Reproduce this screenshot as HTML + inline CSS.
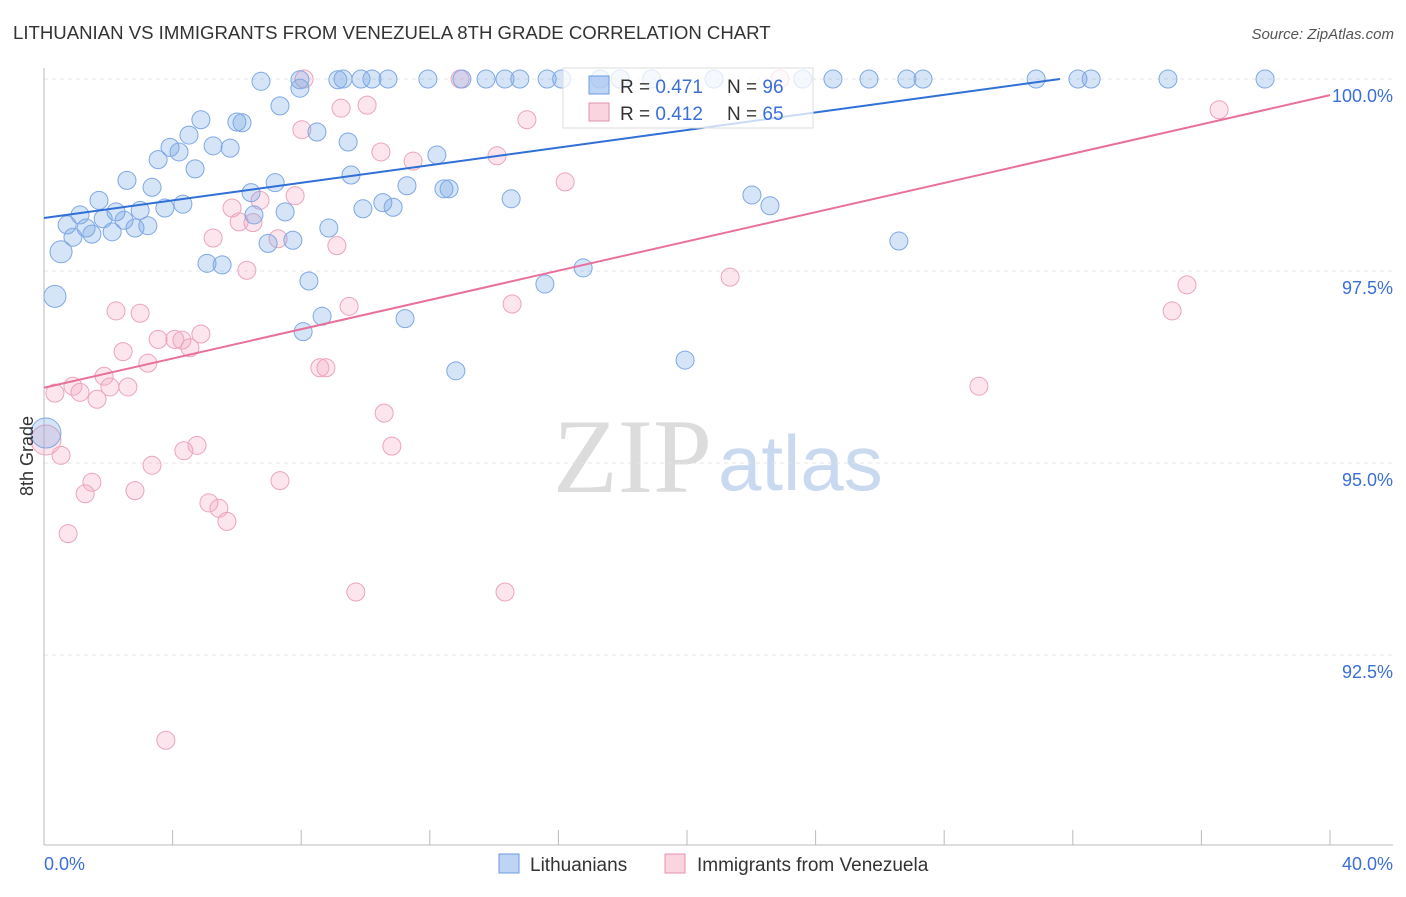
<!DOCTYPE html>
<html><head><meta charset="utf-8"><style>
body{margin:0;background:#fff;font-family:"Liberation Sans",sans-serif;}
</style></head><body>
<svg id="chart" width="1406" height="892" viewBox="0 0 1406 892" xmlns="http://www.w3.org/2000/svg" font-family="Liberation Sans, sans-serif">
<text x="13" y="39" font-size="18.6" fill="#333">LITHUANIAN VS IMMIGRANTS FROM VENEZUELA 8TH GRADE CORRELATION CHART</text>
<text x="1394" y="39" font-size="15" fill="#555" text-anchor="end" font-style="italic">Source: ZipAtlas.com</text>
<g>
<text x="553" y="492" font-size="106" fill="#dcdcdc" font-family="Liberation Serif, serif">ZIP</text>
<text x="718" y="490" font-size="78" fill="#c9d9f0">atlas</text>
</g>
<g id="grid"></g>
<g id="axes"></g>
<g id="marks"></g>
<g>
<rect x="563" y="68" width="250" height="60" fill="rgba(255,255,255,0.75)" stroke="#ddd"/>
<rect x="589" y="76" width="20" height="18" fill="rgba(110,160,230,0.45)" stroke="#6a9be0"/>
<text x="620" y="93" font-size="19" fill="#333">R = <tspan fill="#3a6fd8">0.471</tspan></text>
<text x="727" y="93" font-size="19" fill="#333">N = <tspan fill="#3a6fd8">96</tspan></text>
<rect x="589" y="103" width="20" height="18" fill="rgba(245,160,185,0.45)" stroke="#e890ae"/>
<text x="620" y="120" font-size="19" fill="#333">R = <tspan fill="#3a6fd8">0.412</tspan></text>
<text x="727" y="120" font-size="19" fill="#333">N = <tspan fill="#3a6fd8">65</tspan></text>
</g>
<g>
<rect x="499" y="854" width="20" height="19" fill="rgba(110,160,230,0.45)" stroke="#6a9be0"/>
<text x="530" y="871" font-size="19" fill="#333">Lithuanians</text>
<rect x="665" y="854" width="20" height="19" fill="rgba(245,160,185,0.45)" stroke="#e890ae"/>
<text x="697" y="871" font-size="19" fill="#333">Immigrants from Venezuela</text>
</g>
<text transform="translate(33,456) rotate(-90)" font-size="18" fill="#333" text-anchor="middle">8th Grade</text>
</svg>
<script>
const yTicks=[100,97.5,95,92.5];
const yTickLabels=["100.0%","97.5%","95.0%","92.5%"];
const xTickLabels=["0.0%","40.0%"];
const blueX=[6.75,7.96,9.14,9.30,9.86,10.2,10.7,11.94,13.0,13.75,14.34,14.8,15.65,16.1,17.3,17.92,18.9,20.84,23.6,24.54,25.66,26.84,27.34,30.86,32.16,32.57,34.96,37.98,7.34,7.96,4.88,6.0,6.16,4.51,8.49,9.46,3.92,4.2,5.26,5.79,3.55,12.22,4.7,2.58,3.36,9.55,7.19,6.44,1.71,4.32,3.76,11.29,12.44,12.6,14.53,22.02,22.58,9.92,10.54,10.86,1.12,2.24,2.99,6.53,7.5,0.72,1.84,2.49,3.23,8.86,1.31,2.12,2.83,0.9,1.49,6.97,7.74,26.59,0.53,5.07,5.54,16.77,8.24,15.58,0.34,8.65,11.23,8.06,19.94,12.81,0.06];
const blueY=[99.97,99.99,99.99,100,100,100,100,100,100,100,100,100,100,100,100,100,100,100,100,100,100,100,100,100,100,100,100,100,99.65,99.88,99.47,99.44,99.43,99.27,99.31,99.18,99.11,99.05,99.13,99.10,98.95,99.01,98.83,98.68,98.59,98.75,98.65,98.52,98.42,98.37,98.32,98.61,98.57,98.57,98.44,98.49,98.35,98.31,98.39,98.33,98.23,98.27,98.29,98.23,98.27,98.1,98.18,98.16,98.09,98.06,98.06,98.01,98.06,97.94,97.98,97.86,97.9,97.89,97.75,97.6,97.58,97.54,97.37,97.33,97.17,96.91,96.88,96.71,96.34,96.2,95.39];
const pinkX=[8.09,12.94,22.89,36.55,9.24,10.05,8.02,15.02,10.48,11.48,14.09,16.21,7.81,5.85,6.72,6.07,6.5,5.26,7.28,9.11,6.31,21.34,35.55,2.24,2.99,9.49,14.56,35.09,3.55,4.07,4.29,4.88,4.54,2.46,3.23,1.87,0.9,1.12,0.34,2.05,2.61,1.65,8.58,8.77,29.08,10.58,10.82,4.76,4.35,3.36,0.53,0.06,7.34,1.49,1.28,2.83,5.13,5.44,5.69,0.75,9.7,14.34,3.79];
const pinkY=[100,100,100,99.6,99.62,99.66,99.34,99.47,99.05,98.93,99.0,98.66,98.48,98.32,98.42,98.14,98.13,97.93,97.92,97.83,97.51,97.42,97.32,96.98,96.95,97.04,97.07,96.98,96.61,96.61,96.6,96.68,96.5,96.45,96.3,96.13,96.0,95.92,95.91,95.99,95.99,95.83,96.24,96.24,96.0,95.65,95.22,95.23,95.16,94.97,95.1,95.3,94.77,94.75,94.6,94.64,94.48,94.41,94.24,94.08,93.32,93.32,91.39];
const blueTrend=[[0,98.19],[31.6,100]];
const pinkTrend=[[0,95.98],[40,99.79]];
const NS="http://www.w3.org/2000/svg";
const sx=v=>44+v*32.15;
const sy=v=>79+(100-v)*76.8;
function mk(tag,attrs,parent){const e=document.createElementNS(NS,tag);for(const k in attrs)e.setAttribute(k,attrs[k]);parent.appendChild(e);return e;}
const grid=document.getElementById('grid'),axes=document.getElementById('axes'),marks=document.getElementById('marks');
yTicks.forEach((t,i)=>{
  const l=mk('line',{x1:44,x2:1393,y1:sy(t),y2:sy(t),stroke:'#e4e4e4','stroke-dasharray':'4,4'},grid);
  
  
  const tx=mk('text',{x:1393,y:sy(t)+23,'font-size':18,fill:'#3a6fd8','text-anchor':'end'},axes);
  tx.textContent=yTickLabels[i];
  
  
});
const ya=mk('line',{x1:44,x2:44,y1:68,y2:845,stroke:'#bbb'},axes);


const xa=mk('line',{x1:44,x2:1393,y1:845,y2:845,stroke:'#bbb'},axes);


for(let i=0;i<=10;i++){
  const t=mk('line',{x1:sx(i*4),x2:sx(i*4),y1:830,y2:845,stroke:'#bbb'},axes);
  
  
}
[[0,'start',44],[40,'end',1393]].forEach((d,i)=>{
  const tx=mk('text',{x:d[2],y:870,'font-size':18,fill:'#3a6fd8','text-anchor':d[1]},axes);
  tx.textContent=xTickLabels[i];
  
  
});
function pts(xs,ys,fill,stroke,name){
  xs.forEach((x,i)=>{
    const big=(x<0.2);
    const c=mk('circle',{cx:sx(x),cy:sy(ys[i]),r:big?15:(x<0.6&&ys[i]>97)?11:9,fill:fill,stroke:stroke,'stroke-width':1},marks);
    
    
  });
}
pts(pinkX,pinkY,'rgba(245,170,195,0.3)','#eba4bd','venezuela-point');
pts(blueX,blueY,'rgba(120,165,230,0.3)','#7fa8e4','lithuanian-point');
const bl=mk('line',{x1:sx(blueTrend[0][0]),y1:sy(blueTrend[0][1]),x2:sx(blueTrend[1][0]),y2:sy(blueTrend[1][1]),stroke:'#2f6fd6','stroke-width':2},marks);


const pl=mk('line',{x1:sx(pinkTrend[0][0]),y1:sy(pinkTrend[0][1]),x2:sx(pinkTrend[1][0]),y2:sy(pinkTrend[1][1]),stroke:'#e8709a','stroke-width':2},marks);


</script>
</body></html>
